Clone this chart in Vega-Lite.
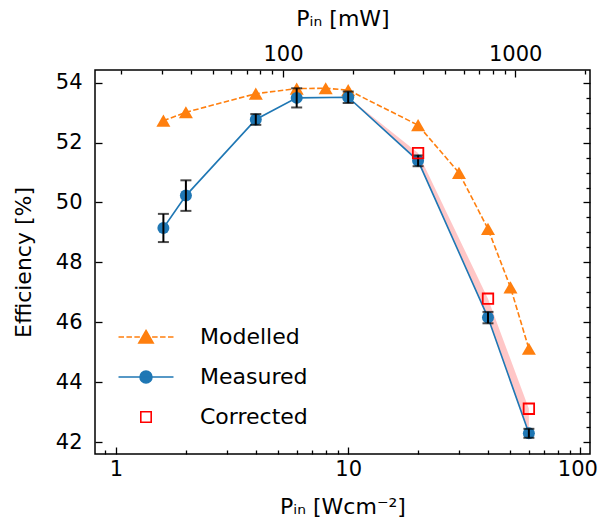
{
  "$schema": "https://vega.github.io/schema/vega-lite/v6.json",
  "width": 495,
  "height": 384,
  "autosize": "none",
  "padding": {"left": 95, "top": 70, "right": 9, "bottom": 74},
  "background": "white",
  "config": {
    "font": "DejaVu Sans",
    "view": {"stroke": "black", "strokeWidth": 1.5},
    "axis": {
      "domain": false,
      "grid": false,
      "labelFont": "DejaVu Sans",
      "labelFontSize": 21,
      "labelColor": "black",
      "titleFont": "DejaVu Sans",
      "titleFontSize": 22,
      "titleFontWeight": "normal",
      "titleColor": "black",
      "tickColor": "black",
      "tickWidth": 1.3,
      "labelOverlap": false,
      "labelBound": false,
      "labelFlush": false
    }
  },
  "datasets": {
    "modelled": [
      {"p": 1.6, "eff": 52.73},
      {"p": 2, "eff": 53.01},
      {"p": 4, "eff": 53.63},
      {"p": 6, "eff": 53.8},
      {"p": 8, "eff": 53.81},
      {"p": 10, "eff": 53.75},
      {"p": 20, "eff": 52.58},
      {"p": 30, "eff": 50.99},
      {"p": 40, "eff": 49.12},
      {"p": 50, "eff": 47.17},
      {"p": 60, "eff": 45.12}
    ],
    "measured": [
      {"p": 1.6, "eff": 49.15, "err": 0.47},
      {"p": 2, "eff": 50.23, "err": 0.51},
      {"p": 4, "eff": 52.77, "err": 0.18},
      {"p": 6, "eff": 53.49, "err": 0.32},
      {"p": 10, "eff": 53.51, "err": 0.19},
      {"p": 20, "eff": 51.39, "err": 0.18},
      {"p": 40, "eff": 46.16, "err": 0.19},
      {"p": 60, "eff": 42.3, "err": 0.15}
    ],
    "corrected": [
      {"p": 20, "eff": 51.65},
      {"p": 40, "eff": 46.79},
      {"p": 60, "eff": 43.12}
    ],
    "band": [
      {"p": 10, "lo": 53.51, "hi": 53.51},
      {"p": 20, "lo": 51.39, "hi": 51.65},
      {"p": 40, "lo": 46.16, "hi": 46.79},
      {"p": 60, "lo": 42.3, "hi": 43.12}
    ],
    "series": [
      {"series": "Modelled"},
      {"series": "Measured"},
      {"series": "Corrected"}
    ],
    "mw": [
      {"mw": 100},
      {"mw": 1000}
    ],
    "yr": [
      {"v": 42},
      {"v": 54}
    ]
  },
  "layer": [
    {
      "encoding": {
        "x": {
          "field": "p",
          "type": "quantitative",
          "title": "Pᵢₙ [Wcm⁻²]",
          "scale": {"type": "log", "domain": [0.812, 110], "nice": false},
          "axis": {
            "orient": "bottom",
            "titlePadding": 14,
            "values": [0.9, 1, 2, 3, 4, 5, 6, 7, 8, 9, 10, 20, 30, 40, 50, 60, 70, 80, 90, 100],
            "labelExpr": "indexof([1,10,100], datum.value) >= 0 ? format(datum.value, 'd') : ''",
            "tickSize": {"condition": {"test": "indexof([1,10,100], datum.value) >= 0", "value": -7}, "value": -4},
            "labelOffset": {"condition": {"test": "datum.value === 100", "value": -3}, "value": 0},
            "labelPadding": 11
          }
        }
      },
      "layer": [
        {
          "data": {"name": "band"},
          "mark": {"type": "area", "color": "#ff0000", "opacity": 0.22},
          "encoding": {
            "y": {"field": "lo", "type": "quantitative", "title": "Efficiency [%]",
              "scale": {"domain": [41.61, 54.42], "nice": false, "zero": false},
              "axis": {
                "orient": "left",
                "titlePadding": 20,
                "values": [42, 42.5, 43, 43.5, 44, 44.5, 45, 45.5, 46, 46.5, 47, 47.5, 48, 48.5, 49, 49.5, 50, 50.5, 51, 51.5, 52, 52.5, 53, 53.5, 54],
                "labelExpr": "datum.value % 2 === 0 ? format(datum.value, 'd') : ''",
                "tickSize": {"condition": {"test": "datum.value % 2 === 0", "value": -7}, "value": -4},
                "labelPadding": 20
              }
            },
            "y2": {"field": "hi"}
          }
        },
        {
          "data": {"name": "modelled"},
          "mark": {"type": "line", "color": "#ff7f0e", "strokeWidth": 1.6, "strokeDash": [5.5, 2.4]},
          "encoding": {"y": {"field": "eff", "type": "quantitative", "title": "Efficiency [%]"}}
        },
        {
          "data": {"name": "modelled"},
          "mark": {"type": "point", "shape": "triangle-up", "filled": true, "color": "#ff7f0e", "opacity": 1, "size": 196},
          "encoding": {"y": {"field": "eff", "type": "quantitative", "title": "Efficiency [%]"}}
        },
        {
          "data": {"name": "measured"},
          "mark": {"type": "line", "color": "#1f77b4", "strokeWidth": 1.6},
          "encoding": {"y": {"field": "eff", "type": "quantitative", "title": "Efficiency [%]"}}
        },
        {
          "data": {"name": "measured"},
          "mark": {"type": "point", "shape": "circle", "filled": true, "color": "#1f77b4", "opacity": 1, "size": 144},
          "encoding": {"y": {"field": "eff", "type": "quantitative", "title": "Efficiency [%]"}}
        },
        {
          "data": {"name": "measured"},
          "mark": {"type": "errorbar", "color": "black", "thickness": 2, "ticks": {"size": 11}},
          "encoding": {
            "y": {"field": "eff", "type": "quantitative", "title": "Efficiency [%]"},
            "yError": {"field": "err"}
          }
        },
        {
          "data": {"name": "corrected"},
          "mark": {"type": "point", "shape": "square", "filled": false, "stroke": "#ff0000", "strokeWidth": 1.8, "opacity": 1, "size": 110},
          "encoding": {"y": {"field": "eff", "type": "quantitative", "title": "Efficiency [%]"}}
        },
        {
          "data": {"name": "series"},
          "mark": {"type": "point", "opacity": 0, "size": 169, "strokeWidth": 1.6},
          "encoding": {
            "fill": {
              "field": "series",
              "type": "nominal",
              "scale": {"domain": ["Modelled", "Measured", "Corrected"], "range": ["#ff7f0e", "#1f77b4", "transparent"]},
              "legend": null
            },
            "stroke": {
              "field": "series",
              "type": "nominal",
              "scale": {"domain": ["Modelled", "Measured", "Corrected"], "range": ["#ff7f0e", "#1f77b4", "#ff0000"]},
              "legend": null
            },
            "shape": {
              "field": "series",
              "type": "nominal",
              "scale": {
                "domain": ["Modelled", "Measured", "Corrected"],
                "range": [
                  "M-4.23,0H-3.38M-3.01,0H-2.16M-1.79,0H-0.94M0.94,0H1.79M2.16,0H3.01M3.38,0H4.23M0,-1L1.1,0.9L-1.1,0.9Z",
                  "M-4.23,0H4.23M-0.92,0A0.92,0.92,0,1,0,0.92,0A0.92,0.92,0,1,0,-0.92,0Z",
                  "M-0.8,-0.8H0.8V0.8H-0.8Z"
                ]
              },
              "legend": {
                "title": null,
                "orient": "none",
                "legendX": 40,
                "legendY": 256,
                "padding": 0,
                "symbolSize": 169,
                "symbolOpacity": 1,
                "symbolStrokeWidth": 1.6,
                "labelFont": "DejaVu Sans",
                "labelFontSize": 22,
                "labelColor": "black",
                "labelOffset": 43,
                "rowPadding": 18,
                "encode": {
                  "symbols": {
                    "update": {
                      "fill": {"scale": "fill", "field": "value"},
                      "stroke": {"scale": "stroke", "field": "value"},
                      "strokeWidth": {"value": 1.6},
                      "opacity": {"value": 1}
                    }
                  }
                }
              }
            }
          }
        }
      ]
    },
    {
      "data": {"name": "mw"},
      "mark": {"type": "point", "opacity": 0},
      "encoding": {
        "x": {
          "field": "mw",
          "type": "quantitative",
          "title": "Pᵢₙ [mW]",
          "scale": {"type": "log", "domain": [15.5, 2101], "nice": false},
          "axis": {
            "orient": "top",
            "titlePadding": 10,
            "values": [20, 30, 40, 50, 60, 70, 80, 90, 100, 200, 300, 400, 500, 600, 700, 800, 900, 1000, 2000],
            "labelExpr": "indexof([100,1000], datum.value) >= 0 ? format(datum.value, 'd') : ''",
            "tickSize": {"condition": {"test": "indexof([100,1000], datum.value) >= 0", "value": -7}, "value": -4},
            "labelPadding": 13
          }
        }
      }
    },
    {
      "data": {"name": "yr"},
      "mark": {"type": "point", "opacity": 0},
      "encoding": {
        "y": {
          "field": "v",
          "type": "quantitative",
          "scale": {"domain": [41.61, 54.42], "nice": false, "zero": false},
          "axis": {
            "orient": "right",
            "title": null,
            "labels": false,
            "values": [42, 42.5, 43, 43.5, 44, 44.5, 45, 45.5, 46, 46.5, 47, 47.5, 48, 48.5, 49, 49.5, 50, 50.5, 51, 51.5, 52, 52.5, 53, 53.5, 54],
            "tickSize": {"condition": {"test": "datum.value % 2 === 0", "value": -7}, "value": -4}
          }
        }
      }
    }
  ],
  "resolve": {"scale": {"x": "independent", "y": "independent"}}
}
